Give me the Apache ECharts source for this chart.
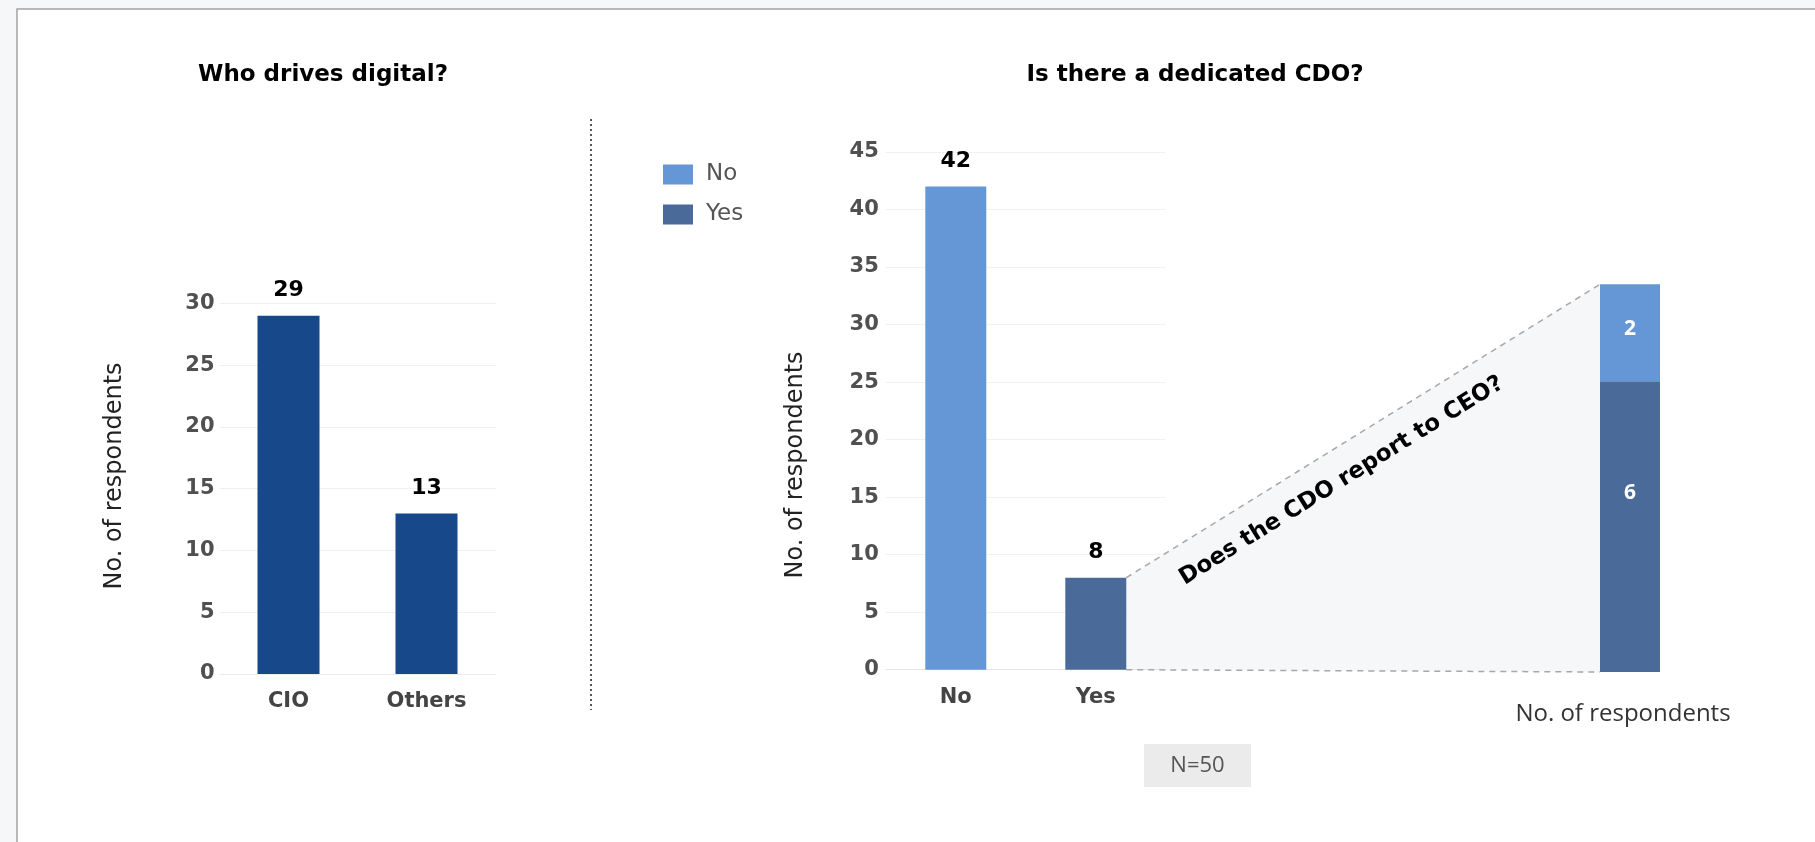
<!DOCTYPE html>
<html>
<head>
<meta charset="utf-8">
<script src="https://cdn.jsdelivr.net/npm/echarts@6/dist/echarts.min.js"></script>
<style>
  html, body { margin: 0; padding: 0; background: #f6f7f9; }
  #chart { width: 1815px; height: 842px; }
</style>
</head>
<body>
<div id="chart"></div>
<script>
// Who drives digital?
const driverCategories = ['CIO', 'Others'];
const driverCounts = [29, 13];
const driverAxis = { max: 30, interval: 5 };

// Is there a dedicated CDO?
const cdoCategories = ['No', 'Yes'];
const cdoCounts = [42, 8];
const cdoAxis = { max: 45, interval: 5 };

// Does the CDO report to CEO? (breakdown of the "Yes" bar)
const reportCategory = ['CDO'];
const reportNo = [2];
const reportYes = [6];

const sampleLabel = 'N=50';
const axisTitle = 'No. of respondents';
const breakdownQuestion = 'Does the CDO report to CEO?';

const COLOR_DRIVER = '#174889';
const COLOR_NO = '#6596d6';
const COLOR_YES = '#4a6b9a';
const WIDE = 'DejaVu Sans';
const OPEN = 'Open Sans';

const chart = echarts.init(document.getElementById('chart'), null, { renderer: 'canvas' });

const tickLabel = { fontFamily: WIDE, fontSize: 21, fontWeight: 'bold', color: '#505050' };
const catLabel = { fontFamily: WIDE, fontSize: 21, fontWeight: 'bold', color: '#444', margin: 17 };
const valueLabel = { show: true, position: 'top', distance: 14, fontFamily: WIDE, fontSize: 22, fontWeight: 'bold', color: '#000' };
const splitLine = { show: true, lineStyle: { color: '#f1f1f1', width: 1 } };

const option = {
  animation: false,
  backgroundColor: 'transparent',
  textStyle: { fontFamily: WIDE },
  title: [
    { text: 'Who drives digital?', left: 323, top: 64, textAlign: 'center', padding: 0,
      textStyle: { fontFamily: WIDE, fontSize: 23, fontWeight: 'bold', color: '#000' } },
    { text: 'Is there a dedicated CDO?', left: 1195, top: 64, textAlign: 'center', padding: 0,
      textStyle: { fontFamily: WIDE, fontSize: 23, fontWeight: 'bold', color: '#000' } }
  ],
  legend: {
    data: ['No', 'Yes'],
    orient: 'vertical',
    left: 663, top: 163,
    padding: 0,
    itemWidth: 30, itemHeight: 20, itemGap: 17,
    icon: 'rect',
    textStyle: { fontFamily: WIDE, fontSize: 23, color: '#555', padding: [0, 0, 0, 8] }
  },
  grid: [
    { left: 219.5, width: 276, top: 303.4, height: 370.6 },
    { left: 885.8, width: 280, top: 152, height: 517.7 },
    { left: 1600, width: 60, top: 284.3, height: 387.7 }
  ],
  xAxis: [
    { gridIndex: 0, type: 'category', data: driverCategories,
      axisLine: { lineStyle: { color: '#ececec' } }, axisTick: { show: false }, axisLabel: catLabel },
    { gridIndex: 1, type: 'category', data: cdoCategories,
      axisLine: { lineStyle: { color: '#e6e6e6' } }, axisTick: { show: false }, axisLabel: catLabel },
    { gridIndex: 2, type: 'category', data: reportCategory,
      axisLine: { show: false }, axisTick: { show: false }, axisLabel: { show: false },
      name: axisTitle, nameLocation: 'middle', nameGap: 30,
      nameTextStyle: { fontFamily: OPEN, fontSize: 24, color: '#333', padding: [0, 14, 0, 0] } }
  ],
  yAxis: [
    { gridIndex: 0, type: 'value', min: 0, max: driverAxis.max, interval: driverAxis.interval,
      axisLabel: Object.assign({ margin: 5 }, tickLabel), splitLine: splitLine },
    { gridIndex: 1, type: 'value', min: 0, max: cdoAxis.max, interval: cdoAxis.interval,
      axisLabel: Object.assign({ margin: 7 }, tickLabel), splitLine: splitLine },
    { gridIndex: 2, type: 'value', min: 0, max: 'dataMax', show: false, splitLine: { show: false } }
  ],
  series: [
    { name: 'Who drives digital?', type: 'bar', xAxisIndex: 0, yAxisIndex: 0,
      data: driverCounts, barWidth: 62, itemStyle: { color: COLOR_DRIVER }, label: valueLabel },
    { name: 'No', type: 'bar', xAxisIndex: 1, yAxisIndex: 1, stack: 'cdo',
      data: cdoCounts.map((v, i) => cdoCategories[i] === 'No' ? v : '-'),
      barWidth: 61, itemStyle: { color: COLOR_NO }, label: valueLabel },
    { name: 'Yes', type: 'bar', xAxisIndex: 1, yAxisIndex: 1, stack: 'cdo',
      data: cdoCounts.map((v, i) => cdoCategories[i] === 'Yes' ? v : '-'),
      barWidth: 61, itemStyle: { color: COLOR_YES }, label: valueLabel },
    { name: 'Yes', type: 'bar', xAxisIndex: 2, yAxisIndex: 2, stack: 'report',
      data: reportYes, barWidth: 60, itemStyle: { color: COLOR_YES },
      label: { show: true, position: 'inside', offset: [0, -34], fontFamily: OPEN, fontSize: 21, fontWeight: 'bold', color: '#fff' } },
    { name: 'No', type: 'bar', xAxisIndex: 2, yAxisIndex: 2, stack: 'report',
      data: reportNo, barWidth: 60, itemStyle: { color: COLOR_NO },
      label: { show: true, position: 'inside', offset: [0, -4], fontFamily: OPEN, fontSize: 21, fontWeight: 'bold', color: '#fff' } }
  ]
};

chart.setOption(option);

// Connector between the "Yes" bar and its breakdown, placed from the axes
const yesCenter = chart.convertToPixel({ xAxisIndex: 1 }, 'Yes');
const yesRight = yesCenter + 61 / 2;
const yesTop = chart.convertToPixel({ yAxisIndex: 1 }, cdoCounts[cdoCategories.indexOf('Yes')]);
const yesBase = chart.convertToPixel({ yAxisIndex: 1 }, 0);
const stackLeft = chart.convertToPixel({ xAxisIndex: 2 }, reportCategory[0]) - 60 / 2;
const stackTop = chart.convertToPixel({ yAxisIndex: 2 }, reportNo[0] + reportYes[0]);
const stackBase = chart.convertToPixel({ yAxisIndex: 2 }, 0);

const dx = stackLeft - yesRight, dy = stackTop - yesTop;
const len = Math.sqrt(dx * dx + dy * dy);
const ux = dx / len, uy = dy / len;
const along = len * 0.42, off = 31;
const textX = yesRight + ux * along - uy * off;
const textY = yesTop + uy * along + ux * off;
const angle = Math.atan2(-dy, dx);

const dashStyle = { stroke: '#a8a8a8', lineWidth: 1.5, lineDash: [6, 5] };

chart.setOption({
  graphic: [
    { type: 'rect', z: -10, silent: true,
      shape: { x: 17, y: 9, width: 2000, height: 2000 },
      style: { fill: '#ffffff', stroke: '#a3a3a3', lineWidth: 1.5 } },
    { type: 'line', z: 1, silent: true,
      shape: { x1: 591, y1: 119, x2: 591, y2: 710 },
      style: { stroke: '#555', lineWidth: 2, lineDash: [2, 3] } },
    { type: 'text', z: 5, silent: true, x: 115, y: 476, rotation: Math.PI / 2,
      style: { text: axisTitle, fontFamily: WIDE, fontSize: 24, fill: '#222',
               textAlign: 'center', textVerticalAlign: 'middle' } },
    { type: 'text', z: 5, silent: true, x: 796, y: 465, rotation: Math.PI / 2,
      style: { text: axisTitle, fontFamily: WIDE, fontSize: 24, fill: '#222',
               textAlign: 'center', textVerticalAlign: 'middle' } },
    { type: 'polygon', z: 0, silent: true,
      shape: { points: [[yesRight, yesTop], [stackLeft, stackTop], [stackLeft, stackBase], [yesRight, yesBase]] },
      style: { fill: '#f6f7f9' } },
    { type: 'line', z: 1, silent: true,
      shape: { x1: yesRight, y1: yesTop, x2: stackLeft, y2: stackTop }, style: dashStyle },
    { type: 'line', z: 1, silent: true,
      shape: { x1: yesRight, y1: yesBase, x2: stackLeft, y2: stackBase }, style: dashStyle },
    { type: 'text', z: 5, silent: true, x: textX, y: textY, rotation: angle,
      style: { text: breakdownQuestion, fontFamily: WIDE, fontSize: 23, fontWeight: 'bold', fill: '#000',
               textAlign: 'center', textVerticalAlign: 'middle' } },
    { type: 'rect', z: 1, silent: true,
      shape: { x: 1144, y: 744, width: 107, height: 43 },
      style: { fill: '#ebebeb' } },
    { type: 'text', z: 5, silent: true, x: 1197.5, y: 765.5,
      style: { text: sampleLabel, fontFamily: OPEN, fontSize: 22, fill: '#555',
               textAlign: 'center', textVerticalAlign: 'middle' } }
  ]
});
</script>
</body>
</html>
